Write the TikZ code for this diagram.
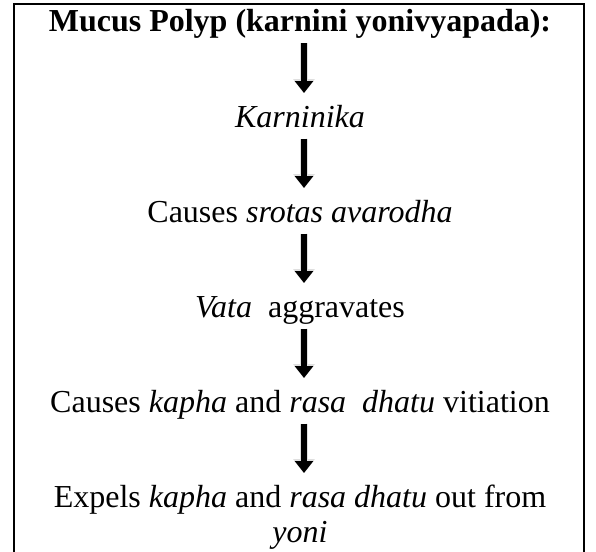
\documentclass[tikz,border=0pt]{standalone}
\usepackage{fontspec}
\setmainfont{Liberation Serif}
\usetikzlibrary{arrows.meta}
\begin{document}
\begin{tikzpicture}[x=1pt,y=-1pt,
  txt/.style={anchor=base,inner sep=0pt,font=\fontsize{32}{35}\selectfont},
  bigarrow/.style={line width=6.5pt,-{Triangle[width=18pt,length=12pt]},
    preaction={draw,gray!25,line width=8.5pt,-{Triangle[width=21pt,length=14pt]}}}]
\useasboundingbox (0,0) rectangle (596,551);
\draw[line width=2.6pt] (14,552) -- (14,4) -- (584,4) -- (584,552);
\node[txt] (t0) at (300,32) {\textbf{Mucus Polyp (karnini yonivyapada):}};
\node[txt] (t1) at (300,127) {\textit{Karninika}};
\node[txt] (t2) at (300,222) {Causes \textit{srotas avarodha}};
\node[txt] (t3) at (300,317) {\textit{Vata}\hspace{0.25em} aggravates};
\node[txt] (t4) at (300,412) {Causes \textit{kapha} and \textit{rasa}\hspace{0.25em} \textit{dhatu} vitiation};
\node[txt] (t5) at (300,507) {Expels \textit{kapha} and \textit{rasa dhatu} out from};
\node[txt] (t6) at (300,542) {\textit{yoni}};
\foreach \a/\b in {t0/t1,t1/t2,t2/t3,t3/t4,t4/t5}
  \draw[bigarrow] ([xshift=4pt,yshift=-11.5pt]\a.base) -- ([xshift=4pt,yshift=34pt]\b.base);
\end{tikzpicture}
\end{document}
